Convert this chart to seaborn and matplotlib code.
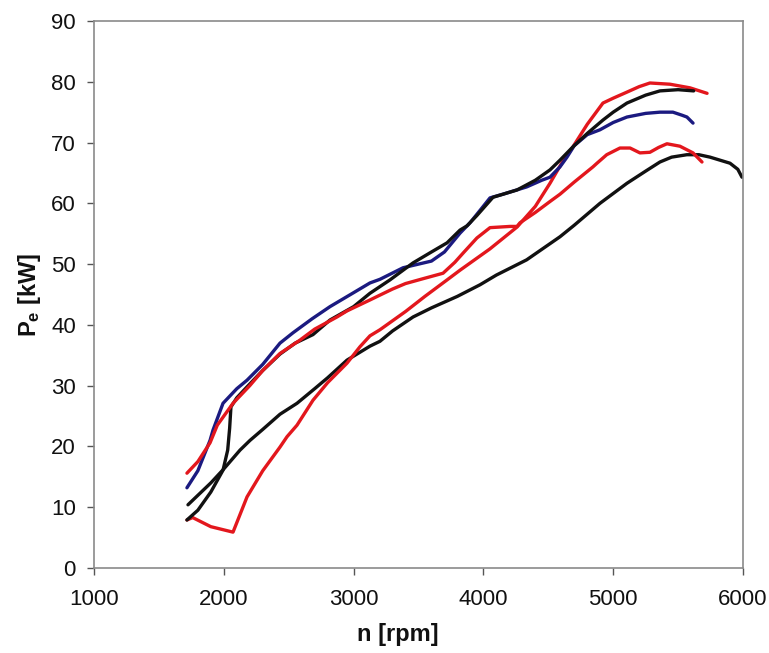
import matplotlib
matplotlib.use("Agg")
import matplotlib.pyplot as plt
import seaborn as sns
import pandas as pd

# ---- data ----
blue_rpm = [1716, 1800, 1894, 1917, 1994, 2100, 2179, 2300, 2433, 2533, 2680, 2818, 3000, 3126, 3203,
            3381, 3500, 3600, 3700, 3820, 3897, 3980, 4051, 4150, 4333, 4450, 4513, 4590, 4644, 4700,
            4800, 4898, 5000, 5106, 5250, 5360, 5460, 5530, 5568, 5615]
blue_kw = [13.2, 16, 21, 22.7, 27.1, 29.5, 30.9, 33.5, 37, 38.7, 41, 43.0, 45.3, 46.9, 47.5,
           49.4, 50, 50.5, 52, 55.1, 56.8, 59, 60.9, 61.5, 62.7, 63.8, 64.3, 66, 67.6, 69.5,
           71.3, 72.1, 73.3, 74.2, 74.8, 75, 75, 74.5, 74.2, 73.2]

black1_rpm = [1716, 1800, 1900, 1994, 2030, 2045, 2055, 2100, 2179, 2300, 2433, 2550, 2687, 2818, 3000,
              3126, 3280, 3458, 3600, 3720, 3820, 3874, 3950, 4074, 4259, 4400, 4513, 4590, 4690, 4800,
              4921, 5000, 5106, 5250, 5360, 5500, 5620]
black1_kw = [7.9, 9.5, 12.5, 16.1, 19.4, 23, 26.5, 28, 29.8, 32.5, 35.2, 37, 38.4, 40.8, 43,
             45.2, 47.4, 50.2, 52, 53.5, 55.6, 56.3, 58, 61, 62.2, 63.8, 65.5, 67.1, 69.3, 71.5,
             73.7, 75, 76.5, 77.8, 78.5, 78.7, 78.5]

red1_rpm = [1716, 1800, 1894, 1950, 2071, 2200, 2300, 2433, 2587, 2700, 2872, 2949, 3126, 3203, 3300,
            3400, 3535, 3689, 3780, 3843, 3950, 4051, 4205, 4259, 4282, 4400, 4513, 4590, 4700, 4844,
            4875, 4950, 5052, 5130, 5206, 5283, 5350, 5414, 5514, 5615, 5684]
red1_kw = [15.6, 17.5, 20.6, 23.5, 27.1, 30, 32.5, 35.3, 37.5, 39.3, 41.3, 42.3, 44.1, 44.9, 45.9,
           46.8, 47.6, 48.5, 50.3, 51.8, 54.3, 56.0, 56.2, 56.2, 56.8, 58.5, 60.3, 61.5, 63.5, 66,
           66.6, 68, 69.1, 69.1, 68.3, 68.4, 69.2, 69.8, 69.4, 68.3, 66.8]

red2_rpm = [1716, 1760, 1900, 2071, 2179, 2300, 2433, 2487, 2564, 2687, 2800, 2949, 3049, 3126, 3203,
            3400, 3550, 3720, 3820, 4050, 4259, 4400, 4513, 4600, 4690, 4800, 4921, 5000, 5106, 5200,
            5283, 5437, 5592, 5723]
red2_kw = [7.9, 8.3, 6.8, 5.9, 11.7, 16, 19.9, 21.6, 23.5, 27.6, 30.5, 33.7, 36.4, 38.2, 39.2,
           42.2, 44.7, 47.4, 49, 52.5, 56.1, 59.5, 63.3, 66.5, 69.3, 73, 76.5, 77.3, 78.3, 79.2,
           79.8, 79.6, 79, 78.1]

black2_rpm = [1724, 1900, 2000, 2125, 2202, 2300, 2433, 2564, 2700, 2800, 2949, 3126, 3203, 3300, 3458,
              3600, 3800, 3974, 4100, 4333, 4590, 4700, 4898, 5106, 5250, 5360, 5450, 5568, 5660, 5746,
              5900, 5960, 5992]
black2_kw = [10.4, 14, 16.3, 19.4, 21, 22.8, 25.3, 27.1, 29.5, 31.3, 34.2, 36.5, 37.3, 39.0, 41.3,
             42.8, 44.7, 46.6, 48.2, 50.7, 54.5, 56.4, 60, 63.3, 65.3, 66.8, 67.6, 68, 68, 67.6,
             66.6, 65.6, 64.3]

series = [
    (black2_rpm, black2_kw, "#111111"),
    (red2_rpm, red2_kw, "#e3171d"),
    (blue_rpm, blue_kw, "#1b1a80"),
    (black1_rpm, black1_kw, "#111111"),
    (red1_rpm, red1_kw, "#e3171d"),
]

sns.set_theme(style="white")
plt.rcParams["font.family"] = ["Liberation Sans", "DejaVu Sans"]
plt.rcParams["mathtext.fontset"] = "custom"
plt.rcParams["mathtext.rm"] = "Liberation Sans"
plt.rcParams["mathtext.bf"] = "Liberation Sans:bold"

fig = plt.figure(figsize=(7.69, 6.53), dpi=100)
ax = fig.add_axes([94 / 769, 1 - 568 / 653, (743 - 94) / 769, (568 - 21) / 653])

for xs, ys, col in series:
    df = pd.DataFrame({"n": xs, "P": ys})
    sns.lineplot(data=df, x="n", y="P", sort=False, color=col, linewidth=2.4, ax=ax)

ax.set_xlim(1000, 6000)
ax.set_ylim(0, 90)
ax.set_xticks([1000, 2000, 3000, 4000, 5000, 6000])
ax.set_yticks(range(0, 91, 10))

for s in ax.spines.values():
    s.set_color("#8a8a8a")
    s.set_linewidth(1.2)

ax.tick_params(axis="both", which="major", direction="out", length=5, width=1,
               color="#555555", labelsize=16, labelcolor="#111111")
ax.tick_params(axis="x", pad=10, bottom=True, top=False)
ax.tick_params(axis="y", pad=8, left=True, right=False)

ax.set_xlabel("n [rpm]", fontsize=17, fontweight="bold", color="#111111")
ax.set_ylabel(r"$\mathbf{P_e}$ [kW]", fontsize=17, fontweight="bold", color="#111111")
ax.xaxis.set_label_coords((398 - 94) / 649, -0.1)
ax.yaxis.set_label_coords(-0.078, 0.5)

fig.savefig("out.png", dpi=100, facecolor="white")
